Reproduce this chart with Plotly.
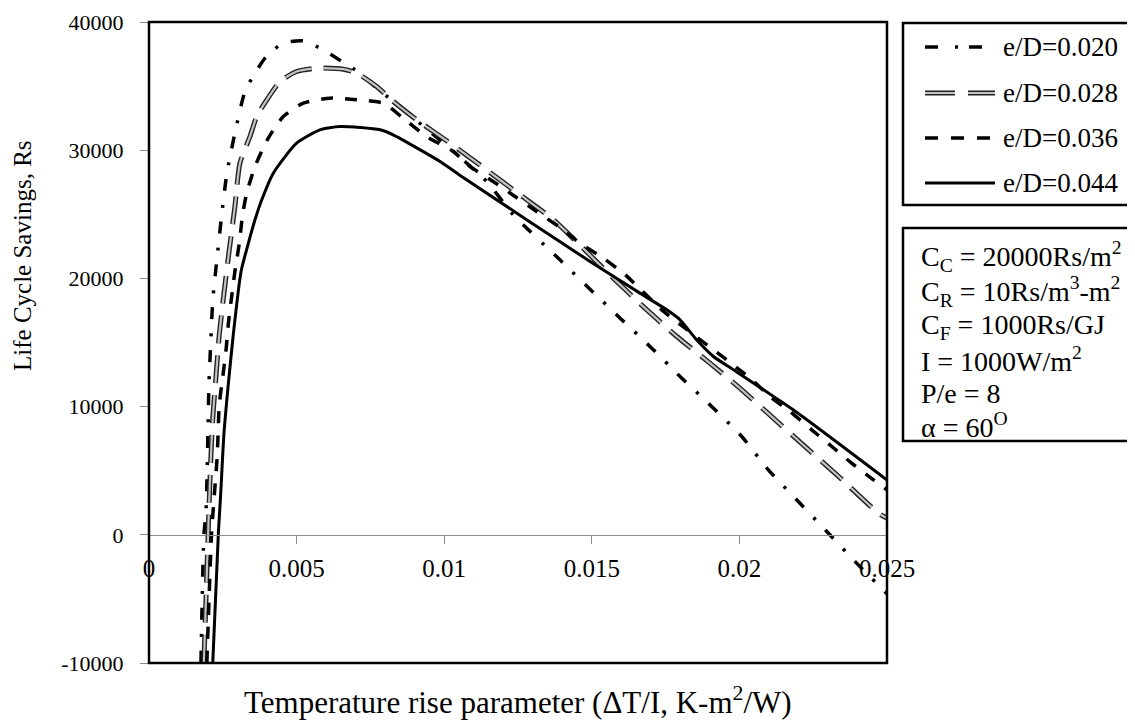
import plotly.graph_objects as go

x_020 = [0.00176, 0.00186, 0.00193, 0.0020, 0.00203, 0.00209, 0.00216, 0.0023, 0.00246, 0.00263,
         0.00291, 0.00325, 0.00359, 0.00399, 0.00455, 0.00523, 0.0059, 0.00653, 0.00715, 0.00771,
         0.00828, 0.01031, 0.01144, 0.01234, 0.01392, 0.01494, 0.01596, 0.01703, 0.01799, 0.01906,
         0.02008, 0.02098, 0.02194, 0.02296, 0.02397, 0.025]
y_020 = [-10000, 0, 1770, 8320, 11700, 14950, 18280, 21500, 24880, 28080,
         31330, 34580, 36010, 37360, 38350, 38530, 37830, 36920, 36010, 34840,
         33800, 29900, 27560, 24960, 21450, 19160, 16900, 14560, 12350, 10010,
         7670, 5070, 2730, 260, -2210, -4600]

x_028 = [0.00186, 0.00204, 0.00209, 0.00216, 0.00227, 0.00238, 0.00254, 0.00272, 0.00291, 0.00308,
         0.00342, 0.00365, 0.00399, 0.00444, 0.005, 0.00568, 0.00658, 0.00704, 0.00771, 0.00828,
         0.00907, 0.0102, 0.01143, 0.01257, 0.0137, 0.01573, 0.0168, 0.01788, 0.019, 0.02008,
         0.02115, 0.02222, 0.0233, 0.02471, 0.025]
y_028 = [-10000, 2600, 5720, 9100, 12350, 15600, 18850, 22230, 25610, 28990,
         31070, 32630, 33930, 35360, 36140, 36400, 36320, 36010, 34970, 33800,
         32370, 30550, 28470, 26520, 24570, 20020, 17680, 15470, 13390, 11310,
         9100, 6890, 4680, 1690, 1300]

x_036 = [0.00196, 0.00212, 0.0022, 0.00231, 0.00238, 0.0025, 0.00261, 0.00269, 0.0028, 0.00291,
         0.00306, 0.00317, 0.00331, 0.00359, 0.00404, 0.00455, 0.00523, 0.00613, 0.00704, 0.00794,
         0.00861, 0.0094, 0.01031, 0.01087, 0.01166, 0.0124, 0.01313, 0.01387, 0.0146, 0.01539,
         0.01613, 0.01737, 0.01816, 0.02036, 0.02104, 0.02171, 0.02245, 0.02313, 0.0238, 0.02454,
         0.025]
y_036 = [-10000, 130, 2730, 6110, 10140, 12350, 14430, 16510, 18590, 20540,
         22750, 24960, 26650, 28730, 30940, 32630, 33670, 34060, 33930, 33670,
         32500, 31070, 29900, 28730, 27560, 26390, 25220, 24050, 22750, 21580,
         20280, 17550, 16120, 12220, 10790, 9620, 8190, 6890, 5590, 4290,
         3500]

x_044 = [0.00216, 0.00235, 0.00243, 0.00254, 0.00269, 0.00286, 0.00303, 0.00313, 0.00359, 0.00382,
         0.00421, 0.0050, 0.00579, 0.00647, 0.00783, 0.00827, 0.00986, 0.01054, 0.01494, 0.01663,
         0.01754, 0.01799, 0.01855, 0.01912, 0.0198, 0.02182, 0.02499]
y_044 = [-10000, 130, 3250, 7930, 11830, 15730, 19110, 20670, 24570, 26130,
         28210, 30550, 31590, 31850, 31590, 31200, 29120, 28030, 21320, 18850,
         17550, 16770, 15210, 13910, 12870, 9750, 4290]

labels = ["e/D=0.020", "e/D=0.028", "e/D=0.036", "e/D=0.044"]
x_ticks = [0, 0.005, 0.01, 0.015, 0.02, 0.025]
x_ticktext = ["0", "0.005", "0.01", "0.015", "0.02", "0.025"]
y_ticks = [-10000, 0, 10000, 20000, 30000, 40000]
y_ticktext = ["-10000", "0", "10000", "20000", "30000", "40000"]

info_lines = [
    "C<sub>C</sub> = 20000Rs/m<sup>2</sup>",
    "C<sub>R</sub> = 10Rs/m<sup>3</sup>-m<sup>2</sup>",
    "C<sub>F</sub> = 1000Rs/GJ",
    "I = 1000W/m<sup>2</sup>",
    "P/e = 8",
    "α = 60<sup>O</sup>",
]

SERIF = "Liberation Serif, Times New Roman, serif"

# plot area as seen on screen (page body adds an 8px offset)
OFF = 8
L, R, T, B = 149, 887, 22, 663
W, H = 1135, 725


def px(xp):
    return (xp - L) / (R - L)


def py(yp):
    return (B - yp) / (B - T)


DASHDOT = "12px,14px,3px,14px"
LONGDASH = "28px,12px"
SHORTDASH = "12px,12px"

fig = go.Figure()
spl = dict(shape="spline", smoothing=0.6)

fig.add_trace(go.Scatter(x=x_020, y=y_020, mode="lines", name=labels[0],
                         line=dict(color="black", width=3.5, dash=DASHDOT, **spl)))
fig.add_trace(go.Scatter(x=x_028, y=y_028, mode="lines", name=labels[1],
                         line=dict(color="#222222", width=5, dash=LONGDASH, **spl)))
fig.add_trace(go.Scatter(x=x_028, y=y_028, mode="lines", name=labels[1], showlegend=False,
                         line=dict(color="#c4c4c4", width=2.2, dash=LONGDASH, **spl)))
fig.add_trace(go.Scatter(x=x_036, y=y_036, mode="lines", name=labels[2],
                         line=dict(color="black", width=3.5, dash=SHORTDASH, **spl)))
fig.add_trace(go.Scatter(x=x_044, y=y_044, mode="lines", name=labels[3],
                         line=dict(color="black", width=3, **spl)))

shapes = [
    # plot frame
    dict(type="rect", xref="paper", yref="paper", x0=0, x1=1, y0=0, y1=1,
         line=dict(color="black", width=2.5), layer="above"),
    # legend box
    dict(type="rect", xref="paper", yref="paper", x0=px(903), x1=px(1145), y0=py(205), y1=py(23),
         line=dict(color="black", width=2.5)),
    # info box
    dict(type="rect", xref="paper", yref="paper", x0=px(903), x1=px(1145), y0=py(441), y1=py(228),
         line=dict(color="black", width=2.5)),
]

leg_y = [47, 93, 138, 183]
leg_styles = [
    [dict(color="black", width=3.5, dash="13px,17px,3px,11px")],
    [dict(color="#222222", width=5, dash="30px,13px"), dict(color="#c4c4c4", width=2.2, dash="30px,13px")],
    [dict(color="black", width=3.5, dash="13px,13px")],
    [dict(color="black", width=3)],
]
annotations = []
for yy, styles, lab in zip(leg_y, leg_styles, labels):
    for st in styles:
        shapes.append(dict(type="line", xref="paper", yref="paper", x0=px(925), x1=px(995),
                           y0=py(yy), y1=py(yy), line=st))
    annotations.append(dict(xref="paper", yref="paper", x=px(1001), y=py(yy), text=lab,
                            showarrow=False, xanchor="left", yanchor="middle",
                            font=dict(family=SERIF, size=27, color="black")))

info_y = [257, 291, 326, 359, 393, 425]
for yy, txt in zip(info_y, info_lines):
    annotations.append(dict(xref="paper", yref="paper", x=px(919), y=py(yy), text=txt,
                            showarrow=False, xanchor="left", yanchor="middle",
                            font=dict(family=SERIF, size=28, color="black")))

annotations.append(dict(xref="paper", yref="paper", x=0.5, y=py(700),
                        text="Temperature rise parameter (ΔT/I, K-m<sup>2</sup>/W)",
                        showarrow=False, xanchor="center", yanchor="middle",
                        font=dict(family=SERIF, size=31, color="black")))
annotations.append(dict(xref="paper", yref="paper", x=px(22), y=py(256),
                        text="Life Cycle Savings, Rs", textangle=-90,
                        showarrow=False, xanchor="center", yanchor="middle",
                        font=dict(family=SERIF, size=25, color="black")))

fig.update_layout(
    width=W, height=H,
    margin=dict(l=L - OFF, r=W - (R - OFF), t=T - OFF, b=H - (B - OFF), autoexpand=False),
    paper_bgcolor="white", plot_bgcolor="white",
    showlegend=False,
    shapes=shapes,
    annotations=annotations,
    xaxis=dict(range=[0, 0.025], tickvals=x_ticks, ticktext=x_ticktext,
               anchor="free", position=0.2,
               showline=True, linecolor="#8c8c8c", linewidth=1,
               ticks="outside", ticklen=8, tickcolor="#8c8c8c", tickwidth=1,
               ticklabelstandoff=3,
               showgrid=False, zeroline=False,
               tickfont=dict(family=SERIF, size=25, color="black")),
    yaxis=dict(range=[-10000, 40000], tickvals=y_ticks, ticktext=y_ticktext,
               ticks="outside", ticklen=8, tickcolor="#8c8c8c", tickwidth=1,
               ticklabelstandoff=12,
               showline=False, showgrid=False, zeroline=False,
               tickfont=dict(family=SERIF, size=22, color="black")),
)

fig.write_html("out.html")
